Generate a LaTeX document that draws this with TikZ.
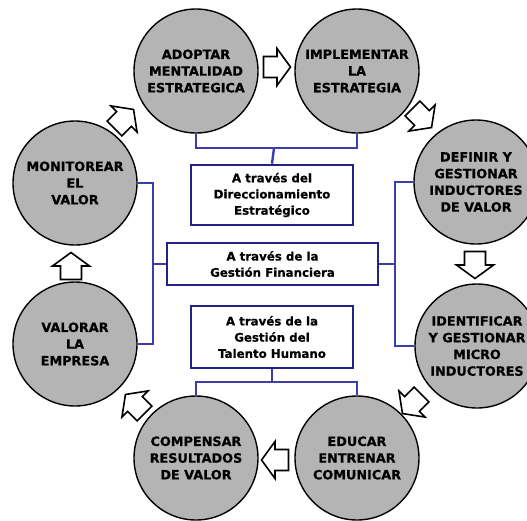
\documentclass[tikz,border=0pt]{standalone}
\usepackage{fontspec}
\setmainfont{DejaVu Sans}[BoldFeatures={FakeBold=0.6}]
\definecolor{circfill}{RGB}{180,180,180}
\definecolor{boxblue}{RGB}{35,35,135}
\definecolor{linkblue}{RGB}{60,60,170}
\tikzset{
  stage/.style={circle, draw=black, line width=1.4pt, fill=circfill, minimum size=124pt, inner sep=0pt, align=center, font=\bfseries\fontsize{12.8}{16.7}\selectfont},
  thrubox/.style={draw=boxblue, line width=2.6pt, fill=white, align=center, inner sep=0pt, font=\bfseries\fontsize{11.8}{16.2}\selectfont},
  link/.style={draw=linkblue, line width=2.4pt},
  barrow/.pic={\draw[black, line width=1.6pt, fill=white, line join=miter]
     (-13.5,-10.5) -- (0,-10.5) -- (0,-18.5) -- (13.5,0) -- (0,18.5) -- (0,10.5) -- (-13.5,10.5) -- cycle;}
}
\begin{document}
\begin{tikzpicture}[x=1pt,y=-1pt]
\useasboundingbox (0,0) rectangle (527,520);
% circles
\node[stage] (adopt) at (196,71) {ADOPTAR\\MENTALIDAD\\ESTRATEGICA};
\node[stage] (impl)  at (357,71) {IMPLEMENTAR\\LA\\ESTRATEGIA};
\node[stage] (defin) at (476,182) {DEFINIR Y\\GESTIONAR\\INDUCTORES\\DE VALOR};
\node[stage] (ident) at (477,346) {IDENTIFICAR\\Y GESTIONAR\\MICRO\\INDUCTORES};
\node[stage] (educ)  at (357,458) {EDUCAR\\ENTRENAR\\COMUNICAR};
\node[stage] (comp)  at (196,458) {COMPENSAR\\RESULTADOS\\DE VALOR};
\node[stage] (valor) at (75,344) {VALORAR\\LA\\EMPRESA};
\node[stage] (monit) at (75,183) {MONITOREAR\\EL\\VALOR};
% boxes
\node[thrubox, minimum width=162pt, minimum height=60pt] (box1) at (272,195) {A través del\\Direccionamiento\\Estratégico};
\node[thrubox, minimum width=211pt, minimum height=42pt] (box2) at (272.5,264) {A través de la\\Gestión Financiera};
\node[thrubox, minimum width=162pt, minimum height=62pt] (box3) at (272,337) {A través de la\\Gestión del\\Talento Humano};
% connectors
\coordinate (topbar) at (274,148);
\coordinate (botbar) at (272,382);
\coordinate (leftbar) at (153,264);
\coordinate (rightbar) at (395,264);
\draw[link] (adopt.south) -- (adopt.south |- topbar) -- (impl.south |- topbar) -- (impl.south);
\draw[link] (topbar) -- (box1.north);
\draw[link] (box3.south) -- (botbar);
\draw[link] (comp.north) -- (comp.north |- botbar) -- (educ.north |- botbar) -- (educ.north);
\draw[link] (monit.east) -- (monit.east -| leftbar) -- (valor.east -| leftbar) -- (valor.east);
\draw[link] (leftbar) -- (box2.west);
\draw[link] (defin.west) -- (defin.west -| rightbar) -- (ident.west -| rightbar) -- (ident.west);
\draw[link] (box2.east) -- (rightbar);
% block arrows
\pic at (277,67) {barrow};
\pic[rotate=-45] at (422,118) {barrow};
\pic[rotate=-90] at (475,265) {barrow};
\pic[rotate=-135] at (412,404) {barrow};
\pic[rotate=180] at (275,460) {barrow};
\pic[rotate=135] at (135,404) {barrow};
\pic[rotate=90] at (71,266) {barrow};
\pic[rotate=45] at (124,119) {barrow};
\end{tikzpicture}
\end{document}
